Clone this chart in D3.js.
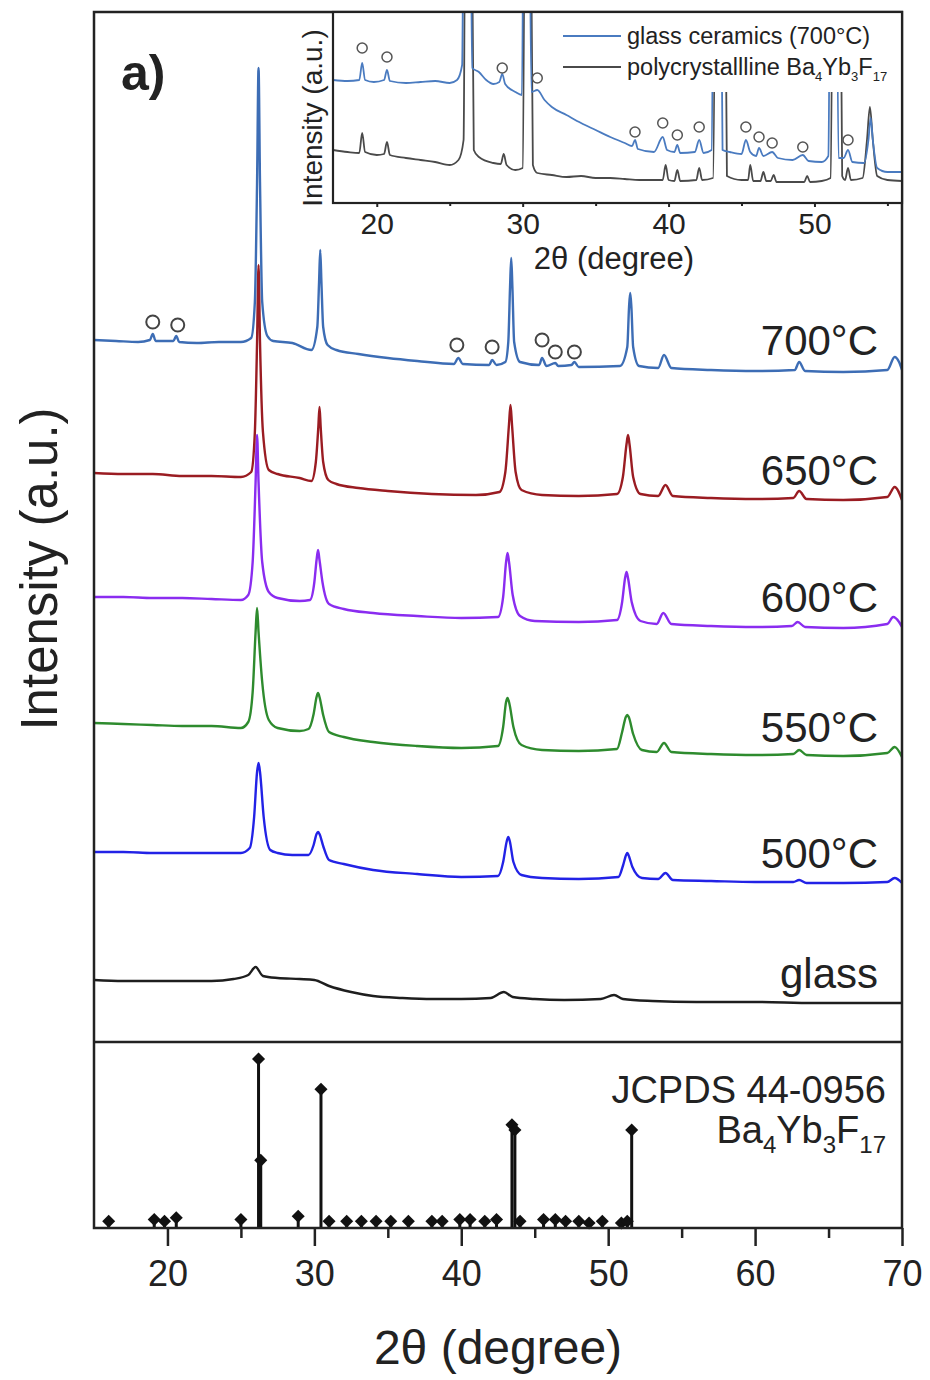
<!DOCTYPE html>
<html>
<head>
<meta charset="utf-8">
<script src="https://cdn.jsdelivr.net/npm/d3@7"></script>
<style>
  body { margin: 0; background: #fff; }
  text { font-family: "Liberation Sans", Arial, sans-serif; fill: #222; }
</style>
</head>
<body>
<script>
const width = 930
const height = 1380

// tick labels
const xTicks = [20, 30, 40, 50, 60, 70]
const xMinor = [25, 35, 45, 55, 65]
const insetTicks = [20, 30, 40, 50]
const insetMinor = [25, 35, 45, 55]

// stacked XRD traces, [2theta, intensity a.u.]
const xrd700 = [[15.0,702],[16.5,701],[18.0,700],[18.8,702],[19.0,708],[19.2,701],[20.4,701],[20.6,706],[20.8,700],[22.0,699],[23.5,700],[25.0,700],[25.7,704],[25.95,740],[26.1,860],[26.2,974],[26.3,860],[26.45,740],[26.8,706],[27.2,701],[28.5,699],[29.8,692],[30.2,715],[30.32,760],[30.4,792],[30.48,760],[30.6,715],[30.9,697],[31.5,692],[33,688],[35,684],[37,681],[39.5,678],[39.8,684],[40.1,678],[41.9,677],[42.1,682],[42.4,677],[43.0,680],[43.2,700],[43.32,755],[43.4,784],[43.48,755],[43.6,700],[44.0,680],[45.3,677],[45.5,684],[45.8,676],[46.4,679],[46.6,676],[47.5,677],[47.7,680],[48.0,675],[50.8,676],[51.3,695],[51.42,735],[51.5,749],[51.58,735],[51.7,695],[52.1,676],[53.4,674],[53.8,687],[54.3,674],[57,672],[60,671],[62.7,672],[63.0,680],[63.4,671],[66,670],[69.0,672],[69.5,685],[69.8,680],[70.0,672]]
const xrd650 = [[15,569],[17,568],[19,568],[21,566],[23,566],[25,565],[25.7,570],[25.95,610],[26.1,700],[26.2,777],[26.3,700],[26.5,610],[26.9,572],[27.5,568],[29.0,564],[29.8,561],[30.1,580],[30.27,615],[30.35,635],[30.43,615],[30.6,580],[30.95,562],[31.5,558],[33,554],[35,551],[38,548],[41,547],[42.6,550],[43.0,570],[43.25,618],[43.35,637],[43.45,618],[43.7,570],[44.1,552],[45.5,547],[48,546],[50.6,548],[51.0,565],[51.25,598],[51.35,607],[51.45,598],[51.7,565],[52.2,548],[53.4,546],[53.9,557],[54.4,546],[57,544],[60,543],[62.6,544],[63.0,551],[63.5,543],[66,542],[69.0,545],[69.5,555],[70,542]]
const xrd600 = [[15,445],[17,445],[19,444],[21,444],[23,443],[25,442],[25.5,447],[25.8,480],[26.0,560],[26.1,607],[26.2,560],[26.45,480],[26.9,450],[27.5,444],[29.0,441],[29.7,442],[30.0,460],[30.15,482],[30.25,492],[30.35,482],[30.55,460],[31,438],[32,433],[34,429],[37,426],[40,424],[42.5,425],[42.85,445],[43.05,480],[43.15,489],[43.25,480],[43.5,447],[44,426],[45,421],[48,420],[50.6,422],[50.95,440],[51.15,464],[51.25,470],[51.35,464],[51.6,440],[52.2,421],[53.3,418],[53.75,429],[54.3,418],[57,416],[60,415],[62.5,416],[62.9,420],[63.4,415],[66,414],[69,418],[69.4,425],[69.8,420],[70,415]]
const xrd550 = [[15,319],[17,318],[19,317],[21,316],[23,316],[25,314],[25.5,320],[25.8,350],[26.0,410],[26.1,434],[26.2,410],[26.45,360],[26.9,322],[27.5,314],[29,311],[29.6,313],[29.95,328],[30.15,345],[30.25,349],[30.35,345],[30.6,327],[31,310],[32,305],[34,300],[37,296],[40,294],[42.5,296],[42.85,315],[43.05,340],[43.15,344],[43.25,340],[43.55,315],[44.1,297],[45.5,292],[48,291],[50.6,293],[50.95,310],[51.2,325],[51.3,327],[51.4,325],[51.7,308],[52.3,292],[53.3,290],[53.8,299],[54.3,290],[57,288],[60,287],[62.6,288],[63.0,292],[63.5,287],[66,286],[69,289],[69.5,295],[70,285]]
const xrd500 = [[15,190],[17,190],[19,189],[21,189],[23,189],[25,189],[25.6,194],[25.9,225],[26.1,270],[26.2,279],[26.3,270],[26.55,225],[27.0,192],[27.5,189],[28.5,187],[29.6,187],[29.95,197],[30.15,208],[30.25,210],[30.35,208],[30.6,196],[31.0,182],[32,178],[34,172],[37,168],[40,165],[42.5,166],[42.85,180],[43.1,201],[43.2,205],[43.3,201],[43.55,180],[44.1,167],[45.5,164],[48,163],[50.7,165],[51.0,176],[51.22,187],[51.3,189],[51.38,187],[51.65,175],[52.3,164],[53.4,163],[53.9,169],[54.4,162],[57,161],[60,160],[62.6,160],[63.0,162],[63.5,159],[66,159],[69,160],[69.5,164],[70,159]]
const xrdGlass = [[15,62],[17,61],[19,61],[21,61],[23,61],[24.5,63],[25.5,67],[26.0,75],[26.5,66],[27.5,64],[29,63],[30,62],[31,56],[32.5,50],[34,46],[36,44],[38,43],[40,43],[42,44],[42.9,50],[43.5,45],[45,43],[47,42],[49.5,43],[50.4,47],[51,43],[53,41],[56,40],[60,40],[64,39],[70,39]]

const seriesNames = ['700°C', '650°C', '600°C', '550°C', '500°C', 'glass']
const seriesData = [xrd700, xrd650, xrd600, xrd550, xrd500, xrdGlass]
const colors = ['#3d6db5', '#9a1c22', '#8a2cf0', '#2e8b2e', '#2222e6', '#1e1e1e']

// open circles marking the secondary phase on the 700°C trace
const circles700 = [[19.0,720],[20.7,717],[39.7,697],[42.1,695],[45.5,702],[46.4,690],[47.7,690]]

// inset traces
const insetGC = [[17.0,123],[18.0,122],[18.8,123],[19.0,140],[19.2,123],[19.8,121],[20.5,123],[20.7,133],[20.9,122],[22,120],[23,121],[24,122],[25,120],[25.5,123],[25.85,138],[26.0,400],[26.35,400],[26.55,135],[27,131],[27.5,123],[28,119],[28.4,121],[28.6,129],[28.8,119],[29.5,111],[29.95,108],[30.1,400],[30.4,400],[30.6,111],[31.0,113],[31.5,103],[32,96],[33,88],[34,80],[35,73],[36,66],[37,60],[37.5,57],[37.7,63],[37.9,54],[39,51],[39.6,66],[39.9,53],[40.4,51],[40.6,58],[40.8,50],[41.8,51],[42.1,63],[42.4,50],[42.95,53],[43.15,400],[43.5,400],[43.7,53],[44.2,51],[45.0,49],[45.3,63],[45.6,51],[46.0,47],[46.2,55],[46.5,47],[47.1,51],[47.5,45],[48.5,43],[49.2,48],[49.6,42],[50.5,41],[50.95,47],[51.15,400],[51.45,400],[51.65,45],[52.0,45],[52.3,53],[52.6,41],[53.4,40],[53.7,63],[53.85,85],[54.0,63],[54.3,35],[55,31],[56,31]]
const insetPoly = [[17.0,53],[18.0,51],[18.8,50],[19.0,70],[19.2,51],[20.0,48],[20.5,49],[20.7,61],[20.9,48],[22,45],[23,43],[24,41],[25,38],[25.6,43],[25.95,63],[26.1,400],[26.45,400],[26.65,53],[27,46],[28,40],[28.5,39],[28.7,49],[28.9,38],[29.5,33],[30.0,35],[30.2,400],[30.5,400],[30.7,38],[31,30],[32,28],[33,26],[34,27],[35,25],[36,25],[37,24],[38,23],[39.6,23],[39.8,38],[40.0,23],[40.4,22],[40.6,33],[40.8,22],[41.9,23],[42.1,35],[42.3,23],[43.05,25],[43.3,400],[43.8,400],[44.0,27],[45.0,23],[45.45,23],[45.6,38],[45.8,22],[46.3,22],[46.5,31],[46.7,22],[47.0,22],[47.2,28],[47.4,21],[48.5,21],[49.3,21],[49.5,27],[49.7,21],[50.5,22],[51.1,25],[51.35,400],[51.7,400],[51.9,27],[52.1,23],[52.3,35],[52.5,23],[53.3,25],[53.6,63],[53.8,96],[54.0,63],[54.3,27],[55,23],[56,22]]
const insetCircles = [[19.0,155],[20.7,146],[28.6,135],[31.0,125],[37.7,71],[39.6,80],[40.6,68],[42.1,76],[45.3,76],[46.2,66],[47.1,60],[49.2,56],[52.3,63]]
const insetNames = ['glass ceramics (700°C)', 'polycrystallline Ba']
const insetColors = ['#4a7bc0', '#4a4a4a']

// JCPDS 44-0956 stick pattern
const refPos = [16.0, 19.1, 19.8, 20.6, 25.0, 26.2, 26.35, 28.9, 30.45, 31.0, 32.2, 33.2, 34.2, 35.2, 36.4, 38.0, 38.7, 39.9, 40.6, 41.6, 42.4, 43.45, 43.65, 44.0, 45.6, 46.4, 47.1, 48.0, 48.7, 49.6, 50.9, 51.3, 51.6]
const refInt = [4, 5, 4, 6, 5, 100, 40, 7, 82, 4, 4, 4, 4, 4, 4, 4, 4, 5, 5, 4, 5, 61, 58, 4, 5, 5, 4, 4, 3, 4, 3, 4, 58]

const frameL = 94, frameR = 902, frameT = 12, frameMid = 1042, frameB = 1228

const x = d3.scaleLinear().domain([15, 70]).range([frameL, frameR])
const y = d3.scaleLinear().domain([0, 1030]).range([frameMid, frameT])
const yRef = d3.scaleLinear().domain([0, 110]).range([frameB, frameMid])

const inLeft = 333, inBottom = 203
const xIn = d3.scaleLinear().domain([17, 56]).range([inLeft, frameR])
const yIn = d3.scaleLinear().domain([0, 191]).range([inBottom, frameT])

let svg = d3
  .select('body')
  .append('svg')
  .attr('width', width)
  .attr('height', height)

svg.append('defs')
  .append('clipPath')
  .attr('id', 'insetClip')
  .append('rect')
  .attr('x', inLeft)
  .attr('y', frameT)
  .attr('width', frameR - inLeft)
  .attr('height', inBottom - frameT)

// main traces
const line = d3.line()
  .x(d => x(d[0]))
  .y(d => y(d[1]))
  .curve(d3.curveMonotoneX)

// draw bottom first so the 700°C trace ends on top
const order = [5, 4, 3, 2, 1, 0]
svg.selectAll('path.trace')
  .data(order)
  .enter()
  .append('path')
  .attr('class', 'trace')
  .attr('d', i => line(seriesData[i]))
  .attr('fill', 'none')
  .attr('stroke', i => colors[i])
  .attr('stroke-width', 2.4)
  .attr('stroke-linejoin', 'round')

svg.selectAll('text.series')
  .data(seriesNames)
  .enter()
  .append('text')
  .attr('class', 'series')
  .attr('x', 878)
  .attr('y', (d, i) => y(seriesData[i][seriesData[i].length - 1][1]) - 15)
  .attr('text-anchor', 'end')
  .style('font-size', '42px')
  .text(d => d)

svg.selectAll('circle.m700')
  .data(circles700)
  .enter()
  .append('circle')
  .attr('class', 'm700')
  .attr('cx', d => x(d[0]))
  .attr('cy', d => y(d[1]))
  .attr('r', 6.5)
  .attr('fill', 'none')
  .attr('stroke', '#444')
  .attr('stroke-width', 2)

// reference sticks
svg.selectAll('line.stick')
  .data(refPos)
  .enter()
  .append('line')
  .attr('class', 'stick')
  .attr('x1', d => x(d))
  .attr('x2', d => x(d))
  .attr('y1', yRef(0))
  .attr('y2', (d, i) => yRef(refInt[i]))
  .attr('stroke', '#111')
  .attr('stroke-width', 3)

svg.selectAll('path.dia')
  .data(refPos)
  .enter()
  .append('path')
  .attr('class', 'dia')
  .attr('d', d3.symbol(d3.symbolSquare, 85))
  .attr('transform', (d, i) => `translate(${x(d)},${yRef(refInt[i])}) rotate(45)`)
  .attr('fill', '#111')

svg.append('text')
  .attr('x', 886)
  .attr('y', 1103)
  .attr('text-anchor', 'end')
  .style('font-size', '38px')
  .text('JCPDS 44-0956')

let formula = svg.append('text')
  .attr('x', 886)
  .attr('y', 1143)
  .attr('text-anchor', 'end')
  .style('font-size', '38px')
formula.append('tspan').text('Ba')
formula.append('tspan').attr('dy', 10).style('font-size', '24px').text('4')
formula.append('tspan').attr('dy', -10).text('Yb')
formula.append('tspan').attr('dy', 10).style('font-size', '24px').text('3')
formula.append('tspan').attr('dy', -10).text('F')
formula.append('tspan').attr('dy', 10).style('font-size', '24px').text('17')

// frame and divider
svg.append('rect')
  .attr('x', frameL)
  .attr('y', frameT)
  .attr('width', frameR - frameL)
  .attr('height', frameB - frameT)
  .attr('fill', 'none')
  .attr('stroke', '#222')
  .attr('stroke-width', 2.5)

svg.append('line')
  .attr('x1', frameL)
  .attr('x2', frameR)
  .attr('y1', frameMid)
  .attr('y2', frameMid)
  .attr('stroke', '#222')
  .attr('stroke-width', 2.5)

let xAxis = svg.append('g')
  .attr('transform', `translate(0,${frameB})`)
  .call(d3.axisBottom(x).tickValues(xTicks).tickSize(18).tickSizeOuter(0).tickPadding(14))
xAxis.select('.domain').remove()
xAxis.selectAll('line').attr('stroke', '#222').attr('stroke-width', 2.5)
xAxis.selectAll('text')
  .style('font-size', '36px')
  .style('font-family', '"Liberation Sans", Arial, sans-serif')
  .attr('fill', '#222')

let xMinorAxis = svg.append('g')
  .attr('transform', `translate(0,${frameB})`)
  .call(d3.axisBottom(x).tickValues(xMinor).tickSize(10).tickSizeOuter(0).tickFormat(''))
xMinorAxis.select('.domain').remove()
xMinorAxis.selectAll('line').attr('stroke', '#222').attr('stroke-width', 2.5)

svg.append('text')
  .attr('x', 498)
  .attr('y', 1364)
  .attr('text-anchor', 'middle')
  .style('font-size', '48px')
  .text('2θ (degree)')

svg.append('text')
  .attr('transform', 'translate(57,569) rotate(-90)')
  .attr('text-anchor', 'middle')
  .style('font-size', '51px')
  .text('Intensity (a.u.)')

svg.append('text')
  .attr('x', 121)
  .attr('y', 90)
  .style('font-size', '50px')
  .style('font-weight', 'bold')
  .text('a)')

// inset
svg.append('rect')
  .attr('x', inLeft)
  .attr('y', frameT)
  .attr('width', frameR - inLeft)
  .attr('height', inBottom - frameT)
  .attr('fill', '#fff')

const inLine = d3.line()
  .x(d => xIn(d[0]))
  .y(d => yIn(d[1]))
  .curve(d3.curveMonotoneX)

let inset = svg.append('g')
  .attr('clip-path', 'url(#insetClip)')

inset.selectAll('path')
  .data([insetPoly, insetGC])
  .enter()
  .append('path')
  .attr('d', d => inLine(d))
  .attr('fill', 'none')
  .attr('stroke', (d, i) => insetColors[1 - i])
  .attr('stroke-width', 1.8)
  .attr('stroke-linejoin', 'round')

inset.selectAll('circle')
  .data(insetCircles)
  .enter()
  .append('circle')
  .attr('cx', d => xIn(d[0]))
  .attr('cy', d => yIn(d[1]))
  .attr('r', 5)
  .attr('fill', 'none')
  .attr('stroke', '#555')
  .attr('stroke-width', 1.5)

// legend sits on a white box that hides the clipped peaks
inset.append('rect')
  .attr('x', 556)
  .attr('y', frameT)
  .attr('width', frameR - 556)
  .attr('height', 80)
  .attr('fill', '#fff')

svg.append('rect')
  .attr('x', inLeft)
  .attr('y', frameT)
  .attr('width', frameR - inLeft)
  .attr('height', inBottom - frameT)
  .attr('fill', 'none')
  .attr('stroke', '#222')
  .attr('stroke-width', 2.2)

let inAxis = svg.append('g')
  .attr('transform', `translate(0,${inBottom})`)
  .call(d3.axisBottom(xIn).tickValues(insetTicks).tickSize(4).tickSizeOuter(0).tickPadding(6))
inAxis.select('.domain').remove()
inAxis.selectAll('line').attr('stroke', '#222').attr('stroke-width', 2)
inAxis.selectAll('text')
  .style('font-size', '30px')
  .style('font-family', '"Liberation Sans", Arial, sans-serif')
  .attr('fill', '#222')

let inMinor = svg.append('g')
  .attr('transform', `translate(0,${inBottom})`)
  .call(d3.axisBottom(xIn).tickValues(insetMinor).tickSize(3).tickSizeOuter(0).tickFormat(''))
inMinor.select('.domain').remove()
inMinor.selectAll('line').attr('stroke', '#222').attr('stroke-width', 2)

svg.append('text')
  .attr('x', 614)
  .attr('y', 269)
  .attr('text-anchor', 'middle')
  .style('font-size', '31px')
  .text('2θ (degree)')

svg.append('text')
  .attr('transform', 'translate(322,118) rotate(-90)')
  .attr('text-anchor', 'middle')
  .style('font-size', '28px')
  .text('Intensity (a.u.)')

// inset legend
let legend = svg.selectAll('g.leg')
  .data(insetNames)
  .enter()
  .append('g')
  .attr('class', 'leg')
  .attr('transform', (d, i) => `translate(563,${36 + i * 31})`)

legend.append('line')
  .attr('x1', 0)
  .attr('x2', 58)
  .attr('stroke', (d, i) => insetColors[i])
  .attr('stroke-width', 2)

let legText = legend.append('text')
  .attr('x', 64)
  .attr('y', 8)
  .style('font-size', '23.5px')
  .text(d => d)

legText.filter((d, i) => i === 1)
  .each(function () {
    let t = d3.select(this)
    t.append('tspan').attr('dy', 6).style('font-size', '13px').text('4')
    t.append('tspan').attr('dy', -6).text('Yb')
    t.append('tspan').attr('dy', 6).style('font-size', '13px').text('3')
    t.append('tspan').attr('dy', -6).text('F')
    t.append('tspan').attr('dy', 6).style('font-size', '13px').text('17')
  })
</script>
</body>
</html>
